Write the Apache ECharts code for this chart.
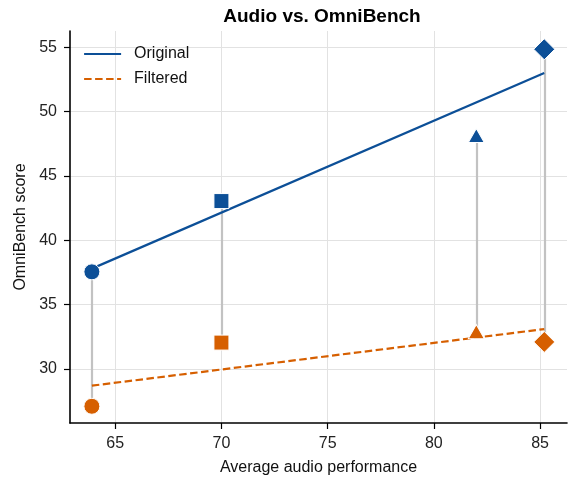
<!DOCTYPE html>
<html>
<head>
<meta charset="utf-8">
<script src="https://cdn.jsdelivr.net/npm/echarts@6/dist/echarts.min.js"></script>
<style>
html,body{margin:0;padding:0;background:#fff;}
#chart{width:573px;height:481px;}
</style>
</head>
<body>
<div id="chart"></div>
<script>
// ---- data ----
const avgAudio = [63.9, 70.0, 82.0, 85.2];
const originalScore = [37.55, 43.05, 48.15, 54.85];
const filteredScore = [27.1, 32.05, 32.9, 32.1];
const markerShapes = ['circle', 'rect', 'triangle', 'diamond'];
const fitX = [63.9, 85.2];
const originalFit = [37.8, 53.0];
const filteredFit = [28.7, 33.1];
const xTicks = [65, 70, 75, 80, 85];
const yTicks = [30, 35, 40, 45, 50, 55];
const seriesNames = ['Original', 'Filtered'];

const BLUE = '#0c4f97';
const ORANGE = '#d65f00';
const FONT = 'Liberation Sans, Arial, sans-serif';

const sizeFor = s => s === 'diamond' ? 21 : (s === 'triangle' ? [16, 14] : (s === 'rect' ? 15 : 16));

function scatterData(ys) {
  return avgAudio.map((x, i) => ({
    value: [x, ys[i]],
    symbol: markerShapes[i],
    symbolSize: sizeFor(markerShapes[i])
  }));
}

const connectors = avgAudio.map((x, i) => ({ coords: [[x, originalScore[i]], [x, filteredScore[i]]] }));

const chart = echarts.init(document.getElementById('chart'), null, { renderer: 'canvas' });
const axisCommon = {
  type: 'value',
  axisLine: { show: true, onZero: false, lineStyle: { color: '#000', width: 1.6 } },
  axisTick: { show: true, inside: false, length: 6, lineStyle: { color: '#000', width: 1.2 } },
  axisLabel: { color: '#222', fontSize: 16, fontFamily: FONT },
  splitLine: { show: true, lineStyle: { color: '#e2e2e2', width: 1 } },
  nameLocation: 'middle',
  nameTextStyle: { color: '#111', fontSize: 16, fontFamily: FONT }
};

chart.setOption({
  animation: false,
  backgroundColor: '#fff',
  title: {
    text: 'Audio vs. OmniBench',
    left: 317, top: 2, textAlign: 'center',
    textStyle: { fontSize: 19, fontWeight: 'bold', color: '#000', fontFamily: FONT }
  },
  grid: { left: 70, right: 6, top: 31, bottom: 58, containLabel: false },
  legend: {
    data: seriesNames,
    left: 83, top: 46, orient: 'vertical', padding: 0,
    itemWidth: 37, itemHeight: 14, itemGap: 9,
    itemStyle: { opacity: 0 },
    lineStyle: { width: 2.2 },
    textStyle: { fontSize: 16, color: '#111', fontFamily: FONT, padding: [0, 0, 0, 8] }
  },
  xAxis: Object.assign({}, axisCommon, {
    min: 62.87, max: 86.27,
    name: 'Average audio performance', nameGap: 37,
    axisTick: Object.assign({}, axisCommon.axisTick, { customValues: xTicks }),
    axisLabel: Object.assign({}, axisCommon.axisLabel, { customValues: xTicks, margin: 13 })
  }),
  yAxis: Object.assign({}, axisCommon, {
    min: 25.8, max: 56.27,
    name: 'OmniBench score', nameGap: 38,
    axisTick: Object.assign({}, axisCommon.axisTick, { customValues: yTicks }),
    axisLabel: Object.assign({}, axisCommon.axisLabel, { customValues: yTicks, margin: 13 })
  }),
  series: [
    {
      type: 'lines', coordinateSystem: 'cartesian2d', silent: true, z: 1,
      lineStyle: { color: '#c2c2c2', width: 2.2, opacity: 1 },
      data: connectors
    },
    {
      name: seriesNames[0], type: 'line', z: 2, symbol: 'none', showSymbol: false,
      lineStyle: { color: BLUE, width: 2.2 }, itemStyle: { color: BLUE },
      data: fitX.map((x, i) => [x, originalFit[i]])
    },
    {
      name: seriesNames[1], type: 'line', z: 2, symbol: 'none', showSymbol: false,
      lineStyle: { color: ORANGE, width: 2.2, type: [7.5, 3.5] }, itemStyle: { color: ORANGE },
      data: fitX.map((x, i) => [x, filteredFit[i]])
    },
    {
      name: 'orig-points', type: 'scatter', z: 3,
      itemStyle: { color: BLUE, borderColor: '#fff', borderWidth: 1, opacity: 1 },
      data: scatterData(originalScore)
    },
    {
      name: 'filt-points', type: 'scatter', z: 3,
      itemStyle: { color: ORANGE, borderColor: '#fff', borderWidth: 1, opacity: 1 },
      data: scatterData(filteredScore)
    }
  ]
});
</script>
</body>
</html>
